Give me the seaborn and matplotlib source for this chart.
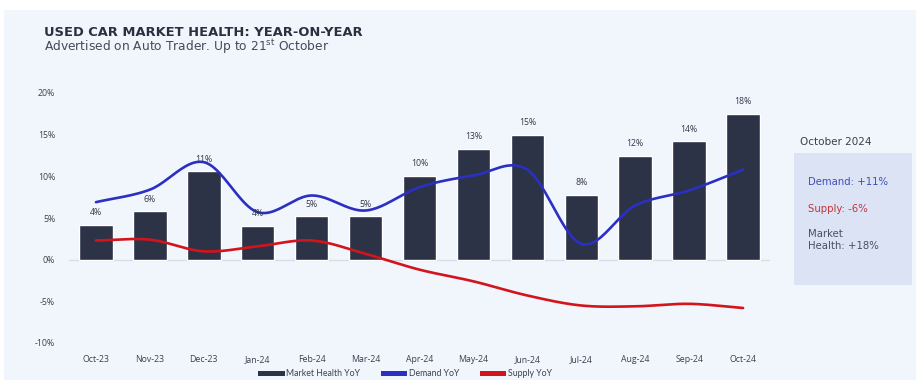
import numpy as np
import pandas as pd
import matplotlib
matplotlib.use("Agg")
import matplotlib.pyplot as plt
from matplotlib.patches import Rectangle, Patch
import seaborn as sns

# Monthly year-on-year changes (%)
months = ["Oct-23", "Nov-23", "Dec-23", "Jan-24", "Feb-24", "Mar-24", "Apr-24",
          "May-24", "Jun-24", "Jul-24", "Aug-24", "Sep-24", "Oct-24"]
market_health = [4.2, 5.8, 10.6, 4.1, 5.2, 5.2, 10.1, 13.3, 15.0, 7.8, 12.5, 14.2, 17.5]
health_labels = ["4%", "6%", "11%", "4%", "5%", "5%", "10%", "13%", "15%", "8%", "12%", "14%", "18%"]
demand = [6.9, 8.4, 11.7, 5.7, 7.7, 5.9, 8.7, 10.1, 10.8, 1.9, 6.5, 8.3, 10.8]
supply = [2.3, 2.4, 1.0, 1.6, 2.3, 0.7, -1.2, -2.6, -4.3, -5.5, -5.6, -5.3, -5.8]
y_ticks = [-10, -5, 0, 5, 10, 15, 20]

NAVY = "#2c3346"
BLUE = "#2b2fc2"
RED = "#d3141c"
BG = "#f1f5fc"


def smooth(values, steps=24):
    """Catmull-Rom curve through the monthly points."""
    y = np.asarray(values, dtype=float)
    x = np.arange(len(y), dtype=float)
    p = np.concatenate([[2 * y[0] - y[1]], y, [2 * y[-1] - y[-2]]])
    xs, ys = [], []
    for i in range(len(y) - 1):
        p0, p1, p2, p3 = p[i], p[i + 1], p[i + 2], p[i + 3]
        t = np.linspace(0, 1, steps, endpoint=(i == len(y) - 2))
        seg = 0.5 * ((2 * p1) + (-p0 + p2) * t + (2 * p0 - 5 * p1 + 4 * p2 - p3) * t ** 2
                     + (-p0 + 3 * p1 - 3 * p2 + p3) * t ** 3)
        xs.append(x[i] + t)
        ys.append(seg)
    return np.concatenate(xs), np.concatenate(ys)


sns.set_theme(style="white")
plt.rcParams["font.family"] = ["Lato", "DejaVu Sans"]

fig = plt.figure(figsize=(9.16, 3.80), dpi=100, facecolor="white")
W, H = 916, 380
fig.patches.append(Rectangle((4 / W, 0), 1, 370 / H, transform=fig.transFigure,
                             facecolor=BG, edgecolor="none", zorder=-10))

ax = fig.add_axes([69 / W, (H - 343) / H, 701 / W, 250 / H])
ax.set_facecolor("none")

df = pd.DataFrame({"month": months, "health": market_health})
sns.barplot(data=df, x="month", y="health", color=NAVY, saturation=1,
            width=0.62, ax=ax, zorder=2)

for i, (v, lab) in enumerate(zip(market_health, health_labels)):
    ax.text(i, v + 0.9, lab, ha="center", va="bottom", fontsize=6.3,
            color="#333a4a", family="Open Sans", zorder=5)

dx, dy = smooth(demand)
sx, sy = smooth(supply)
sns.lineplot(x=dx, y=dy, color=BLUE, linewidth=1.9, sort=False, ax=ax, zorder=4)
sns.lineplot(x=sx, y=sy, color=RED, linewidth=1.9, sort=False, ax=ax, zorder=4)

ax.axhline(0, color="#d9dde6", linewidth=1.0, zorder=1)
ax.set_xlim(-0.5, 12.5)
ax.set_ylim(-10, 20)
ax.set_yticks(y_ticks)
ax.set_yticklabels([f"{t}%" for t in y_ticks])
ax.set_xlabel("")
ax.set_ylabel("")
ax.tick_params(axis="both", length=0, labelsize=6.3, colors="#3c4150")
ax.tick_params(axis="y", pad=10)
ax.tick_params(axis="x", pad=9)
for lab in ax.get_xticklabels() + ax.get_yticklabels():
    lab.set_family("Open Sans")
sns.despine(ax=ax, left=True, bottom=True)

# Headings
fig.text(44 / W, 1 - 32 / H, "USED CAR MARKET HEALTH: YEAR-ON-YEAR", fontsize=9.35,
         fontweight="bold", color="#2b3040", va="center", ha="left",
         family="DejaVu Sans")
fig.text(44 / W, 1 - 46.5 / H, r"Advertised on Auto Trader. Up to 21$^{\mathrm{st}}$ October",
         fontsize=8.8, color="#454a58", va="center", ha="left", family="DejaVu Sans")

# October 2024 summary panel
fig.text(800 / W, 1 - 142 / H, "October 2024", fontsize=7.5, color="#3a3f4c",
         va="center", ha="left", family="DejaVu Sans")
fig.patches.append(Rectangle((794 / W, (H - 285) / H), 118 / W, 132 / H,
                             transform=fig.transFigure, facecolor="#dce3f4",
                             edgecolor="none", zorder=-5))
fig.text(808 / W, 1 - 182 / H, "Demand: +11%", fontsize=7.3, color="#3f4fb5",
         va="center", ha="left", family="DejaVu Sans")
fig.text(808 / W, 1 - 209 / H, "Supply: -6%", fontsize=7.3, color="#c2343a",
         va="center", ha="left", family="DejaVu Sans")
fig.text(808 / W, 1 - 240 / H, "Market\nHealth: +18%", fontsize=7.3, color="#4a4f5c",
         va="center", ha="left", linespacing=1.3, family="DejaVu Sans")

# Legend along the bottom edge
handles = [Patch(facecolor=NAVY, edgecolor="none", label="Market Health YoY"),
           Patch(facecolor=BLUE, edgecolor="none", label="Demand YoY"),
           Patch(facecolor=RED, edgecolor="none", label="Supply YoY")]
fig.legend(handles=handles, loc="center", bbox_to_anchor=(405 / W, 6 / H), ncol=3,
           frameon=False, fontsize=6.3, handlelength=3.0, handleheight=0.6,
           handletextpad=0.15, columnspacing=2.4, labelcolor="#3c4150",
           borderpad=0.1)

fig.savefig("out.png", dpi=100, facecolor="white")
